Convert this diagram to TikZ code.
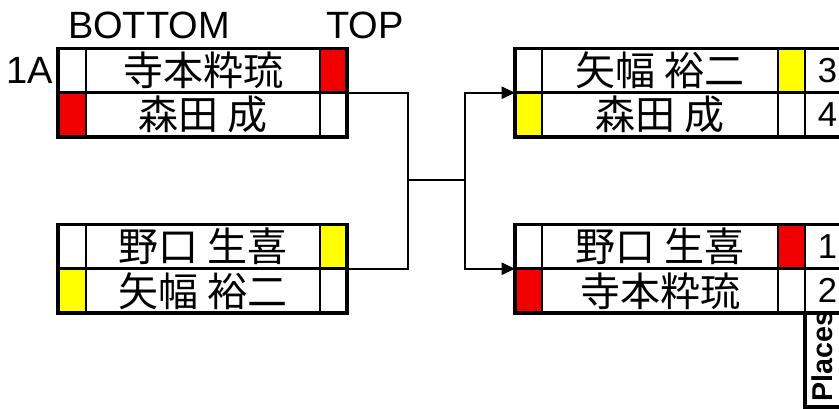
\documentclass[tikz,border=0pt]{standalone}
\usepackage{fontspec}
\setmainfont{Liberation Sans}
\newfontfamily\cjk{Noto Sans CJK JP}
\usetikzlibrary{arrows.meta}
\newdimen\px \px=0.75pt
\definecolor{cred}{RGB}{240,0,0}
\definecolor{cyel}{RGB}{255,255,0}
\newcommand{\prow}[7]{%
  \node[cellbox, fill=#4, minimum width=#7\px] (#1-l) at (#2,#3) {};
  \node[cellbox, namecell] (#1-n) at (#1-l.north east) {#5};
  \node[cellbox, fill=#6, minimum width=27\px] (#1-r) at (#1-n.north east) {};
}
\begin{document}
\begin{tikzpicture}[x=0.75pt,y=-0.75pt,
  cellbox/.style={draw, fill=white, line width=2pt, inner sep=0pt, outer sep=0pt,
    anchor=north west, minimum height=44.25\px},
  namecell/.style={minimum width=234\px, font=\cjk\fontsize{30}{30}\selectfont},
  outerbox/.style={draw, line width=2.8pt},
  conn/.style={draw, line width=1.4pt},
  lbl/.style={font=\fontsize{28.5}{29}\selectfont, inner sep=0pt},
  numlbl/.style={font=\fontsize{26}{26}\selectfont, inner sep=0pt, anchor=west},
  tip/.style={-{Triangle[length=10pt,width=9pt]}}
]
\useasboundingbox (0,0) rectangle (839,408);
\fill[white] (0,0) rectangle (839,408);
\clip (0,0) rectangle (839,408);

% headers
\node[lbl, anchor=base] (hb) at (149,38) {BOTTOM};
\node[lbl, anchor=base] (ht) at (365,38) {TOP};
\node[lbl, anchor=base east] (h1a) at (53,83) {1A};

% left boxes
\prow{A1}{58}{48.5}{white}{寺本粋琉}{cred}{28}
\prow{A2}{58}{92.75}{cred}{森田 成}{white}{28}
\draw[outerbox] (A1-l.north west) rectangle (A2-r.south east);

\prow{B1}{58}{224.5}{white}{野口 生喜}{cyel}{28}
\prow{B2}{58}{268.75}{cyel}{矢幅 裕二}{white}{28}
\draw[outerbox] (B1-l.north west) rectangle (B2-r.south east);

% right boxes
\begin{scope}[namecell/.append style={minimum width=236\px}]
\prow{C1}{515}{48.5}{white}{矢幅 裕二}{cyel}{27}
\prow{C2}{515}{92.75}{cyel}{森田 成}{white}{27}
\prow{D1}{515}{224.5}{white}{野口 生喜}{cred}{27}
\prow{D2}{515}{268.75}{cred}{寺本粋琉}{white}{27}
\end{scope}
\node[cellbox, minimum width=70\px] (C1-p) at (C1-r.north east) {};
\node[cellbox, minimum width=70\px] (C2-p) at (C2-r.north east) {};
\node[cellbox, minimum width=70\px] (D1-p) at (D1-r.north east) {};
\node[cellbox, minimum width=70\px] (D2-p) at (D2-r.north east) {};
\draw[outerbox] (C1-l.north west) rectangle (C2-p.south east);
\draw[outerbox] (D1-l.north west) rectangle (D2-p.south east);
\node[cellbox, line width=2.6pt, minimum width=70\px, minimum height=94\px] (pc) at (D2-p.south west) {};

\node[numlbl] (n3) at ([xshift=9.5pt]C1-p.west) {3};
\node[numlbl] (n4) at ([xshift=9.5pt]C2-p.west) {4};
\node[numlbl] (n1) at ([xshift=9.5pt]D1-p.west) {1};
\node[numlbl] (n2) at ([xshift=9.5pt]D2-p.west) {2};
\node[rotate=90, inner sep=0pt, font=\bfseries\fontsize{21.5}{21.5}\selectfont] (plc) at (822,356) {Places};

% connectors
\coordinate (j1) at (408,180);
\coordinate (j2) at (465,180);
\draw[conn] (A1-r.south east) -| (j1) |- (B1-r.south east);
\draw[conn] (j1) -- (j2);
\draw[conn, tip] (j2) |- (C1-l.south west);
\draw[conn, tip] (j2) |- (D1-l.south west);
\end{tikzpicture}
\end{document}
